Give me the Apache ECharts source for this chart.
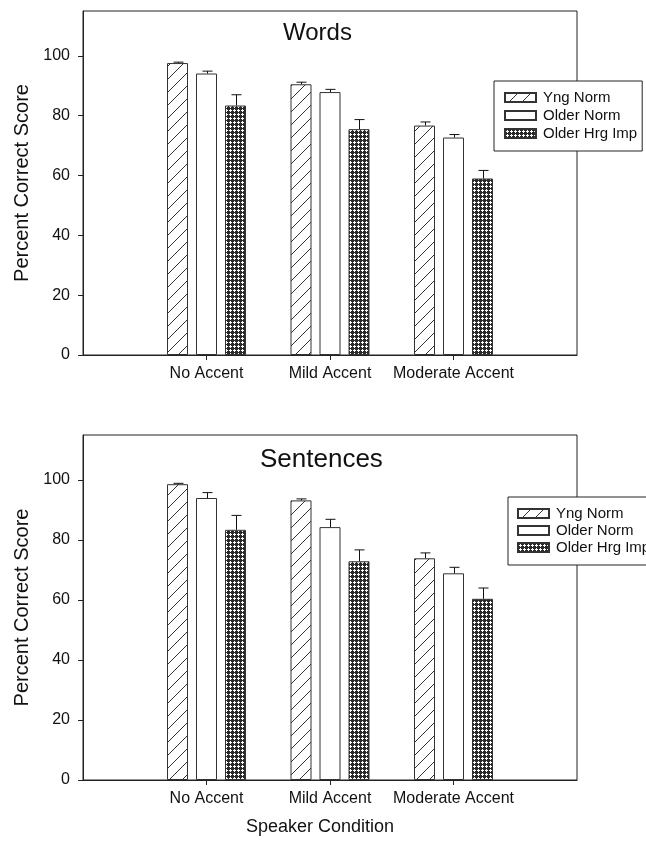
<!DOCTYPE html>
<html><head><meta charset="utf-8">
<script src="https://cdn.jsdelivr.net/npm/echarts@6/dist/echarts.min.js"></script>
<style>html,body{margin:0;padding:0;background:#fff}#c{width:646px;height:846px}</style>
</head><body><div id="c"></div>
<script>
const categories = ['No Accent', 'Mild Accent', 'Moderate Accent'];
const seriesNames = ['Yng Norm', 'Older Norm', 'Older Hrg Imp'];
const yTicks = [0, 20, 40, 60, 80, 100];

// Words panel
const wordsYng = [97.6, 90.5, 76.7];
const wordsYngErr = [0.3, 0.7, 1.2];
const wordsOlder = [94.1, 87.9, 72.7];
const wordsOlderErr = [0.8, 0.9, 1.0];
const wordsHrg = [83.4, 75.5, 59.0];
const wordsHrgErr = [3.6, 3.2, 2.7];

// Sentences panel
const sentYng = [98.6, 93.2, 73.9];
const sentYngErr = [0.3, 0.5, 1.8];
const sentOlder = [94.0, 84.3, 68.9];
const sentOlderErr = [1.8, 2.6, 2.0];
const sentHrg = [83.4, 72.9, 60.4];
const sentHrgErr = [4.8, 3.8, 3.6];

const FONT = "'Liberation Sans', Arial, Helvetica, sans-serif";
const BAR_W = 21, BAR_GAP = 8;

function hatchPattern() {
  const c = document.createElement('canvas'); c.width = 13; c.height = 13;
  const g = c.getContext('2d');
  g.fillStyle = '#fff'; g.fillRect(0, 0, 13, 13);
  g.strokeStyle = '#333'; g.lineWidth = 1;
  g.beginPath();
  g.moveTo(-1, 14); g.lineTo(14, -1);
  g.moveTo(-1, 1); g.lineTo(1, -1);
  g.moveTo(12, 14); g.lineTo(14, 12);
  g.stroke();
  return c;
}
function crossPattern() {
  const c = document.createElement('canvas'); c.width = 4; c.height = 4;
  const g = c.getContext('2d');
  g.fillStyle = '#2a2a2a'; g.fillRect(0, 0, 4, 4);
  g.fillStyle = '#fff';
  [[2,1],[1,2],[2,2],[3,2],[2,3]].forEach(p => g.fillRect(p[0], p[1], 1, 1));
  return c;
}
const fills = [
  { image: hatchPattern(), repeat: 'repeat' },
  '#ffffff',
  { image: crossPattern(), repeat: 'repeat' }
];

const axisCats = [''].concat(categories, ['']);
const pad = arr => [null].concat(arr, [null]);

function panel(idx, values, errs) {
  const series = [];
  values.forEach((vals, s) => {
    series.push({
      type: 'bar', name: seriesNames[s], xAxisIndex: idx, yAxisIndex: idx,
      data: pad(vals), barWidth: BAR_W, barGap: (BAR_GAP / BAR_W * 100) + '%',
      itemStyle: { color: fills[s], borderColor: '#333', borderWidth: 1 },
      emphasis: { disabled: true }, animation: false
    });
  });
  const errData = [];
  values.forEach((vals, s) => vals.forEach((v, i) => errData.push([i + 1, v, v + errs[s][i], s])));
  series.push({
    type: 'custom', xAxisIndex: idx, yAxisIndex: idx, data: errData, z: 5, silent: true,
    encode: { x: 0, y: [1, 2] }, animation: false,
    renderItem(params, api) {
      const off = (api.value(3) - 1) * (BAR_W + BAR_GAP);
      const base = api.coord([api.value(0), api.value(1)]);
      const top = api.coord([api.value(0), api.value(2)]);
      const x = Math.round(base[0] + off) + 0.5;
      const st = { stroke: '#111', lineWidth: 1 };
      return { type: 'group', children: [
        { type: 'line', shape: { x1: x, y1: base[1], x2: x, y2: top[1] }, style: st },
        { type: 'line', shape: { x1: x - 5, y1: top[1], x2: x + 5, y2: top[1] }, style: st }
      ]};
    }
  });
  return series;
}

const grids = [
  { left: 83, top: 11, width: 494, height: 344 },
  { left: 83, top: 435, width: 494, height: 345 }
];

function xAxis(idx) {
  return {
    type: 'category', gridIndex: idx, data: axisCats, boundaryGap: false,
    axisLine: { lineStyle: { color: '#222', width: 1 } },
    axisTick: { length: 5, interval: (i, v) => v !== '', lineStyle: { color: '#222' } },
    axisLabel: { interval: 0, margin: 11, fontSize: 16, color: '#111', fontFamily: FONT },
    splitLine: { show: false }
  };
}
function yAxis(idx) {
  return {
    type: 'value', gridIndex: idx, min: 0, max: 115,
    name: 'Percent Correct Score', nameLocation: 'middle', nameGap: 50, nameRotate: 90,
    nameTextStyle: { fontSize: 20, color: '#111', fontFamily: FONT },
    axisLine: { show: true, lineStyle: { color: '#222', width: 1 } },
    axisTick: { show: true, length: 5, customValues: yTicks, lineStyle: { color: '#222' } },
    axisLabel: { customValues: yTicks, margin: 13, fontSize: 16, color: '#111', fontFamily: FONT },
    splitLine: { show: false }
  };
}

const option = {
  backgroundColor: '#fff',
  animation: false,
  grid: grids.map(g => Object.assign({ show: true, borderColor: '#222', borderWidth: 1, backgroundColor: 'transparent' }, g)),
  xAxis: [xAxis(0), xAxis(1)],
  yAxis: [yAxis(0), yAxis(1)],
  legend: [
    { data: seriesNames, orient: 'vertical', left: 494, top: 81, padding: [9, 5, 10, 10],
      itemWidth: 31, itemHeight: 9, itemGap: 3, icon: 'rect', selectedMode: false,
      borderColor: '#222', borderWidth: 1, backgroundColor: '#fff',
      textStyle: { fontSize: 15, lineHeight: 15, color: '#111', fontFamily: FONT, padding: [0, 0, 0, 2] } },
    { data: seriesNames, orient: 'vertical', left: 508, top: 497, padding: [9, 5, 10, 9],
      itemWidth: 31, itemHeight: 9, itemGap: 2, icon: 'rect', selectedMode: false,
      borderColor: '#222', borderWidth: 1, backgroundColor: '#fff',
      textStyle: { fontSize: 15, lineHeight: 15, color: '#111', fontFamily: FONT, padding: [0, 0, 0, 2] } }
  ],
  graphic: [
    { type: 'text', left: 283, top: 21, style: { text: 'Words', font: '24px ' + FONT, fill: '#111' } },
    { type: 'text', left: 260, top: 447, style: { text: 'Sentences', font: '26px ' + FONT, fill: '#111' } },
    { type: 'text', x: 320, y: 827, style: { text: 'Speaker Condition', font: '18px ' + FONT, fill: '#111', align: 'center', verticalAlign: 'middle' } }
  ],
  series: [].concat(
    panel(0, [wordsYng, wordsOlder, wordsHrg], [wordsYngErr, wordsOlderErr, wordsHrgErr]),
    panel(1, [sentYng, sentOlder, sentHrg], [sentYngErr, sentOlderErr, sentHrgErr])
  )
};
const chart = echarts.init(document.getElementById('c'), null, { renderer: 'canvas' });
chart.setOption(option);
</script></body></html>
